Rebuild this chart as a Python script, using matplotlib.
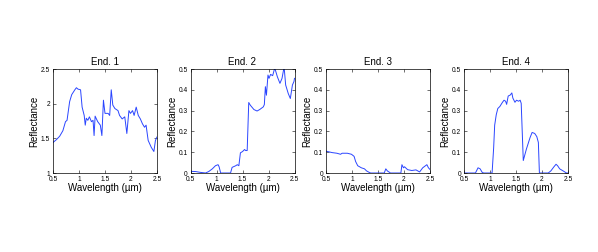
import numpy as np
import matplotlib.pyplot as plt

plt.rcParams['font.family'] = ['Liberation Sans', 'DejaVu Sans']

# End. 1
wl1 = [0.5, 0.564, 0.628, 0.69, 0.74, 0.77, 0.82, 0.86, 0.92, 0.95, 0.98, 1.03,
       1.06, 1.1, 1.12, 1.14, 1.17, 1.2, 1.24, 1.27, 1.29, 1.31, 1.36, 1.41, 1.44,
       1.47, 1.5, 1.56, 1.59, 1.62, 1.65, 1.69, 1.75, 1.78, 1.83, 1.88, 1.92, 1.96,
       1.99, 2.03, 2.06, 2.1, 2.14, 2.18, 2.22, 2.26, 2.29, 2.33, 2.39, 2.44, 2.47, 2.5]
r1 = [1.44, 1.48, 1.53, 1.61, 1.74, 1.76, 2.03, 2.13, 2.2, 2.23, 2.21, 2.2,
      1.95, 1.83, 1.69, 1.79, 1.76, 1.81, 1.74, 1.76, 1.54, 1.82, 1.74, 1.69, 1.54,
      2.05, 1.86, 1.86, 1.83, 2.2, 1.98, 1.93, 1.9, 1.83, 1.78, 1.81, 1.57, 1.9,
      1.86, 1.9, 1.83, 1.95, 1.83, 1.78, 1.71, 1.66, 1.69, 1.47, 1.37, 1.31, 1.47, 1.52]

# End. 2
wl2 = [0.5, 0.6, 0.69, 0.79, 0.85, 0.92, 0.98, 1.03, 1.05, 1.08, 1.2, 1.27, 1.3,
       1.37, 1.4, 1.43, 1.46, 1.5, 1.54, 1.56, 1.59, 1.62, 1.65, 1.72, 1.78, 1.83,
       1.9, 1.92, 1.94, 1.96, 1.99, 2.01, 2.04, 2.08, 2.12, 2.17, 2.22, 2.26, 2.3,
       2.33, 2.38, 2.42, 2.46, 2.49, 2.5]
r2 = [0.008, 0.007, 0.003, 0.0, 0.007, 0.02, 0.035, 0.04, 0.03, 0.0, 0.0, 0.0, 0.027,
      0.035, 0.04, 0.035, 0.097, 0.103, 0.113, 0.108, 0.108, 0.339, 0.326, 0.305, 0.298, 0.305,
      0.318, 0.329, 0.415, 0.374, 0.471, 0.455, 0.474, 0.468, 0.505, 0.463, 0.431, 0.455, 0.51,
      0.423, 0.382, 0.358, 0.423, 0.44, 0.455]

# End. 3
wl3 = [0.5, 0.62, 0.71, 0.78, 0.81, 0.91, 0.99, 1.04, 1.07, 1.11, 1.18, 1.24, 1.28,
       1.33, 1.36, 1.62, 1.65, 1.68, 1.74, 1.94, 1.96, 1.99, 2.01, 2.07, 2.15, 2.23,
       2.3, 2.36, 2.44, 2.47, 2.5]
r3 = [0.105, 0.098, 0.095, 0.09, 0.095, 0.095, 0.09, 0.08, 0.055, 0.035, 0.025, 0.02, 0.01,
      0.003, 0.0, 0.0, 0.02, 0.01, 0.0, 0.0, 0.04, 0.025, 0.03, 0.016, 0.012, 0.015,
      0.005, 0.025, 0.04, 0.025, 0.017]

# End. 4
wl4 = [0.5, 0.72, 0.77, 0.81, 0.85, 0.88, 1.04, 1.07, 1.09, 1.12, 1.15, 1.19, 1.24,
       1.27, 1.3, 1.32, 1.35, 1.39, 1.42, 1.44, 1.48, 1.51, 1.55, 1.58, 1.6, 1.64,
       1.7, 1.77, 1.81, 1.86, 1.9, 1.93, 1.95, 2.12, 2.17, 2.23, 2.27, 2.3, 2.34,
       2.42, 2.47, 2.5]
r4 = [0.0, 0.0, 0.025, 0.02, 0.003, 0.0, 0.0, 0.12, 0.23, 0.28, 0.31, 0.32, 0.34,
      0.35, 0.345, 0.33, 0.37, 0.375, 0.385, 0.36, 0.34, 0.35, 0.345, 0.35, 0.335, 0.06,
      0.115, 0.17, 0.195, 0.19, 0.175, 0.147, 0.0, 0.0, 0.01, 0.03, 0.042, 0.035, 0.02,
      0.008, 0.0, 0.0]

titles = ['End. 1', 'End. 2', 'End. 3', 'End. 4']
series = [(wl1, r1), (wl2, r2), (wl3, r3), (wl4, r4)]
xticks = [0.5, 1, 1.5, 2, 2.5]
xticklabels = ['0.5', '1', '1.5', '2', '2.5']
yticks1 = [1, 1.5, 2, 2.5]
yticklabels1 = ['1', '1.5', '2', '2.5']
yticks = [0, 0.1, 0.2, 0.3, 0.4, 0.5]
yticklabels = ['0', '0.1', '0.2', '0.3', '0.4', '0.5']

fig = plt.figure(figsize=(5.98, 2.52), dpi=100)
lefts = [53, 190.5, 326, 464]
for i, (x, y) in enumerate(series):
    ax = fig.add_axes([lefts[i] / 598, (252 - 173) / 252, 104 / 598, 104 / 252])
    ax.plot(x, y, color='#2a45ff', lw=0.7)
    ax.set_xlim(0.5, 2.5)
    if i == 0:
        ax.set_ylim(1, 2.5)
        ax.set_yticks(yticks1)
        ax.set_yticklabels(yticklabels1)
    else:
        ax.set_ylim(0, 0.5)
        ax.set_yticks(yticks)
        ax.set_yticklabels(yticklabels)
    ax.set_xticks(xticks)
    ax.set_xticklabels(xticklabels)
    ax.tick_params(direction='in', top=True, right=True, length=2, width=0.4,
                   labelsize=4.8)
    ax.tick_params(axis='x', pad=2.5)
    ax.tick_params(axis='y', pad=2)
    for s in ax.spines.values():
        s.set_linewidth(0.5)
    ax.set_title(titles[i], fontsize=7, pad=3)
    ax.set_xlabel('Wavelength (\u00b5m)', fontsize=7, labelpad=-0.5)
    ax.set_ylabel('Reflectance', fontsize=7, labelpad=1)

fig.savefig('out.png', dpi=100)
